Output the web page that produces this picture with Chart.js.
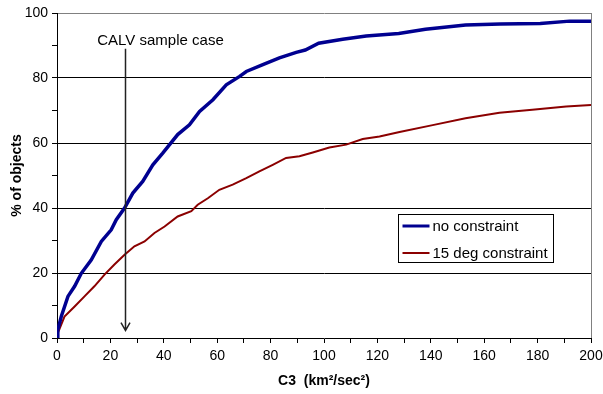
<!DOCTYPE html>
<html lang="en">
<head>
    <meta charset="UTF-8">
    <title>C3 distribution</title>
    <script src="https://cdn.jsdelivr.net/npm/chart.js"></script>
    <style>
        body { margin: 0; background: #fff; }
        #wrap { position: relative; width: 603px; height: 394px; }
    </style>
</head>
<body>
    <div id="wrap">
        <canvas id="c3Chart" width="603" height="394"></canvas>
    </div>

    <script>
        // curve: no constraint
        const freeX = [0, 0.3, 1.6, 4.1, 6.6, 9.1, 12.8, 16.6, 20.3, 22.2, 25.3, 28.4, 32.1, 35.9, 39.6, 45.2, 49.6, 53.4, 58.4, 63.4, 68.4, 70.9, 77.1, 83.3, 89.6, 93, 98, 107, 115.8, 128, 138, 153, 166, 181, 192, 200];
        const freeY = [0, 2.5, 6.6, 12.8, 15.9, 19.9, 24, 29.7, 33.3, 36.4, 40, 44.6, 48.2, 53.3, 56.9, 62.6, 65.6, 69.7, 73.3, 77.9, 80.5, 82, 84.1, 86.2, 87.9, 88.6, 90.7, 91.9, 92.9, 93.7, 95, 96.3, 96.6, 96.8, 97.5, 97.5];

        // 15 deg constraint
        const degX = [0, 0.3, 2.8, 6.6, 10.3, 14, 17.8, 21.5, 25.3, 29, 32.8, 36.5, 40.3, 45.2, 50.3, 52.7, 56.5, 60.8, 65.8, 70.9, 75.8, 80.8, 85.8, 90.8, 95.8, 102, 108.3, 114.5, 120.8, 128.3, 140.7, 153, 165.7, 178, 190.7, 200];
        const degY = [0, 1.5, 6.6, 9.7, 12.8, 15.9, 19.5, 22.6, 25.6, 28.2, 29.7, 32.3, 34.3, 37.4, 39, 41, 43, 45.6, 47.2, 49.2, 51.3, 53.3, 55.4, 55.9, 57.1, 58.6, 59.5, 61.2, 62, 63.4, 65.5, 67.6, 69.3, 70.2, 71.2, 71.7];

        const seriesNames = ['no constraint', '15 deg constraint'];
        const seriesColors = ['#000090', '#8B0000'];

        // sample case marker
        const sampleC3 = 25.3;
        const sampleTop = 89;
        const sampleBottom = 2.3;
        const sampleLabel = 'CALV sample case';

        const FONT = "'Liberation Sans', Arial, sans-serif";

        const toPoints = (xs, ys) => xs.map((x, i) => ({ x: x, y: ys[i] }));

        // arrow, label and legend box
        const annotPlugin = {
            id: 'annot',
            afterDatasetsDraw(chart) {
                const ctx = chart.ctx;
                const xs = chart.scales.x, ys = chart.scales.y;
                const area = chart.chartArea;
                const ax = Math.round(xs.getPixelForValue(sampleC3)) + 0.5;
                const top = ys.getPixelForValue(sampleTop);
                const bot = ys.getPixelForValue(sampleBottom);

                ctx.save();
                ctx.strokeStyle = '#222';
                ctx.lineWidth = 1.5;
                ctx.beginPath();
                ctx.moveTo(ax, top);
                ctx.lineTo(ax, bot);
                ctx.moveTo(ax - 4.5, bot - 8);
                ctx.lineTo(ax, bot);
                ctx.lineTo(ax + 4.5, bot - 8);
                ctx.stroke();

                ctx.fillStyle = '#000';
                ctx.font = '15px ' + FONT;
                ctx.textAlign = 'center';
                ctx.textBaseline = 'alphabetic';
                ctx.fillText(sampleLabel, ax + 35, top - 4);

                // legend box
                const bx = area.right - 192.5, by = area.top + 201.5;
                const bw = 155, bh = 48;
                ctx.fillStyle = '#fff';
                ctx.fillRect(bx, by, bw, bh);
                ctx.strokeStyle = '#000';
                ctx.lineWidth = 1;
                ctx.strokeRect(bx, by, bw, bh);
                ctx.textAlign = 'left';
                ctx.textBaseline = 'middle';
                seriesNames.forEach((name, i) => {
                    const ly = by + 11.5 + i * 27;
                    ctx.strokeStyle = seriesColors[i];
                    ctx.lineWidth = i === 0 ? 3 : 2;
                    ctx.beginPath();
                    ctx.moveTo(bx + 4, ly);
                    ctx.lineTo(bx + 31, ly);
                    ctx.stroke();
                    ctx.fillStyle = '#000';
                    ctx.fillText(name, bx + 34, ly + 1);
                });
                ctx.restore();
            }
        };

        new Chart(document.getElementById('c3Chart').getContext('2d'), {
            type: 'line',
            data: {
                datasets: [{
                    label: seriesNames[0],
                    data: toPoints(freeX, freeY),
                    borderColor: seriesColors[0],
                    borderWidth: 3.5,
                    pointRadius: 0,
                    tension: 0,
                    fill: false
                }, {
                    label: seriesNames[1],
                    data: toPoints(degX, degY),
                    borderColor: seriesColors[1],
                    borderWidth: 2,
                    pointRadius: 0,
                    tension: 0,
                    fill: false
                }]
            },
            options: {
                responsive: false,
                animation: false,
                devicePixelRatio: 1,
                layout: { padding: { top: 13, right: 12, left: 0, bottom: 0 } },
                plugins: {
                    legend: { display: false },
                    tooltip: { enabled: false }
                },
                scales: {
                    x: {
                        type: 'linear',
                        min: 0,
                        max: 200,
                        afterFit: s => {
                            s.height = 56;
                            s.paddingLeft = 0;
                            s.paddingRight = 0;
                        },
                        border: { color: '#000', width: 1 },
                        grid: {
                            color: c => c.tick && c.tick.value === 200 ? '#808080' : 'rgba(0,0,0,0)',
                            tickColor: '#000',
                            tickLength: 5
                        },
                        ticks: {
                            stepSize: 10,
                            maxRotation: 0,
                            autoSkip: false,
                            color: '#000',
                            padding: 5,
                            font: { family: FONT, size: 14 },
                            callback: v => v % 20 === 0 ? v : ''
                        },
                        title: {
                            display: true,
                            text: 'C3  (km²/sec²)',
                            color: '#000',
                            padding: { top: 0, bottom: 4 },
                            font: { family: FONT, size: 14, weight: 'bold' }
                        }
                    },
                    y: {
                        min: 0,
                        max: 100,
                        afterFit: s => {
                            s.width = 57;
                            s.paddingTop = 0;
                            s.paddingBottom = 0;
                        },
                        border: { color: '#000', width: 1 },
                        grid: {
                            color: c => {
                                const v = c.tick ? c.tick.value : 0;
                                if (v === 100) return '#808080';
                                if (v === 0 || v % 20 !== 0) return 'rgba(0,0,0,0)';
                                return '#000';
                            },
                            tickColor: '#000',
                            tickLength: 5
                        },
                        ticks: {
                            stepSize: 10,
                            autoSkip: false,
                            color: '#000',
                            padding: 4,
                            font: { family: FONT, size: 14 },
                            callback: v => v % 20 === 0 ? v : ''
                        },
                        title: {
                            display: true,
                            text: '% of objects',
                            color: '#000',
                            padding: { top: 9, bottom: 0 },
                            font: { family: FONT, size: 14, weight: 'bold' }
                        }
                    }
                }
            },
            plugins: [annotPlugin]
        });
    </script>
</body>
</html>
